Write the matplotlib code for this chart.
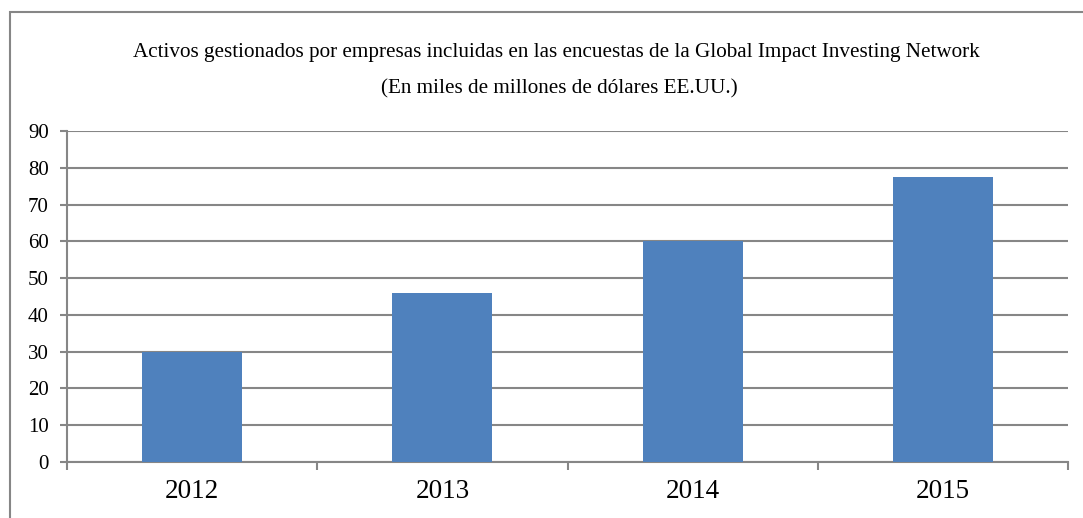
import matplotlib
matplotlib.use("Agg")
import matplotlib.pyplot as plt
from matplotlib.patches import Rectangle
import numpy as np

years = ["2012", "2013", "2014", "2015"]
values = [30, 46, 60, 77.4]
yticks = list(range(0, 100, 10))
title_line1 = "Activos gestionados por empresas incluidas en las encuestas de la Global Impact Investing Network"
title_line2 = "(En miles de millones de dólares EE.UU.)"

W, H = 1083, 518
fig = plt.figure(figsize=(W / 100, H / 100), dpi=100)
plt.rcParams['font.family'] = ['Liberation Serif', 'DejaVu Serif']

# outer chart border (open to the right and bottom like the reference crop)
fig.patches.append(Rectangle((10 / W, -0.1), 1.2, (H - 12) / H + 0.1,
                             transform=fig.transFigure, fill=False,
                             edgecolor="#868686", linewidth=1.5))

left, right, top, bottom = 67, 1068, 131, 462
ax = fig.add_axes([left / W, 1 - bottom / H, (right - left) / W, (bottom - top) / H])

x = np.arange(len(years))
ax.bar(x, values, width=0.4, color="#4F81BD", zorder=3)

ax.set_xlim(-0.5, len(years) - 0.5)
ax.set_ylim(0, 90)
ax.set_yticks(yticks)
ax.set_yticklabels([str(t) for t in yticks], fontsize=15)
ax.yaxis.grid(True, color="#868686", linewidth=1.5, zorder=0)

ax.set_xticks(x)
ax.set_xticklabels(years, fontsize=19.5)
ax.set_xticks(np.arange(-0.5, len(years)), minor=True)
ax.tick_params(axis='x', which='major', length=0, pad=12)
ax.tick_params(axis='x', which='minor', length=6, width=1.5, color="#868686", direction='out')
ax.tick_params(axis='y', length=5, width=1.5, color="#868686", direction='out', pad=8)

for s in ["top", "right"]:
    ax.spines[s].set_visible(False)
for s in ["left", "bottom"]:
    ax.spines[s].set_color("#868686")
    ax.spines[s].set_linewidth(1.5)

fig.text(556 / W, 1 - 53 / H, title_line1, ha="center", va="center", fontsize=15.2)
fig.text(559 / W, 1 - 89 / H, title_line2, ha="center", va="center", fontsize=15.2)

fig.savefig("out.png", dpi=100)
